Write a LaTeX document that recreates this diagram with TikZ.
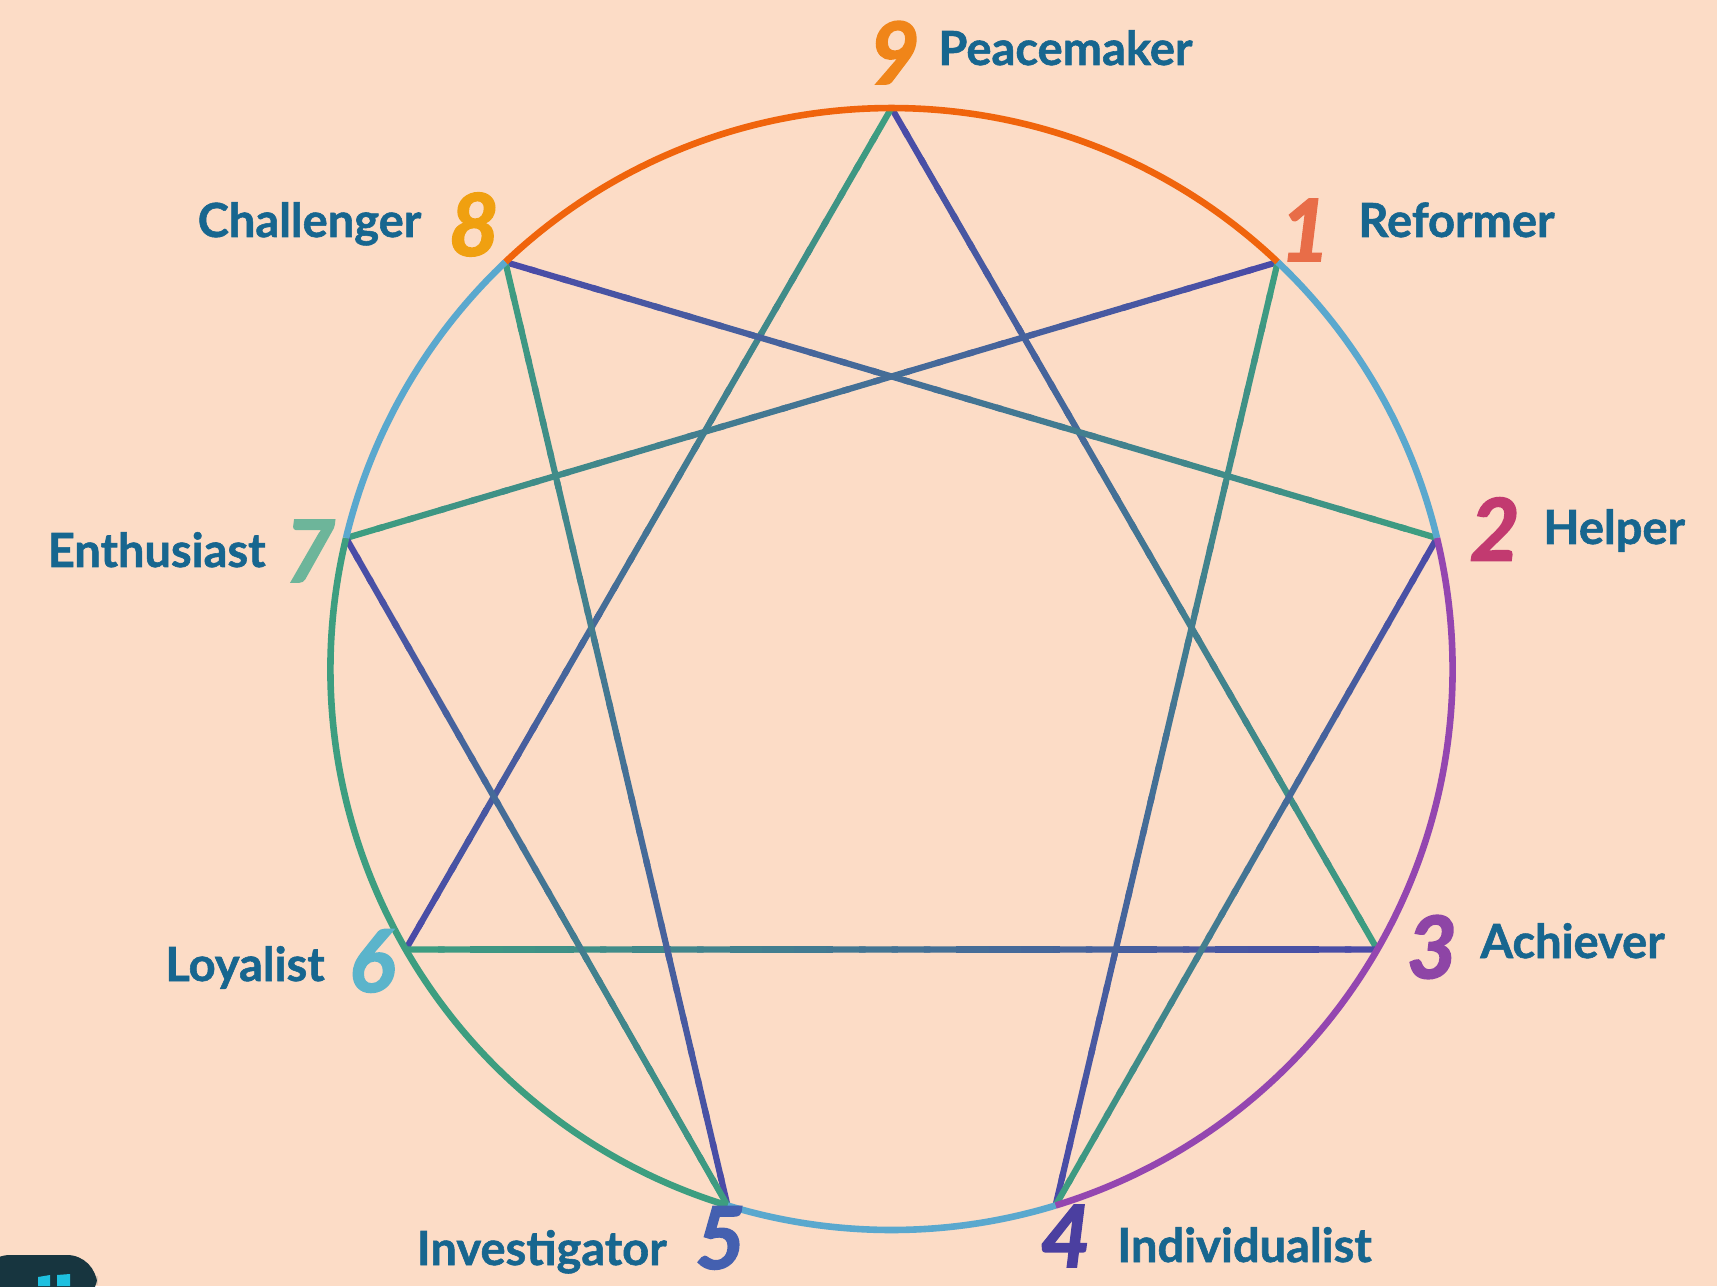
\documentclass[tikz,border=0pt]{standalone}
\usepackage{fontspec}
\setmainfont{Lato}
\usetikzlibrary{calc}
\definecolor{bg}{HTML}{FCDCC6}
\definecolor{txt}{HTML}{17668F}
\definecolor{greenL}{HTML}{3D9E80}
\definecolor{indigoL}{HTML}{4A4AA8}
\definecolor{orangeL}{HTML}{F0640C}
\definecolor{lblue}{HTML}{5AA8CE}
\definecolor{purpL}{HTML}{9446B0}
\definecolor{c9}{HTML}{F08519}
\definecolor{c8}{HTML}{F0A010}
\definecolor{c1}{HTML}{E86D48}
\definecolor{c2}{HTML}{C23A70}
\definecolor{c3}{HTML}{8E45A6}
\definecolor{c4}{HTML}{4B3FA0}
\definecolor{c5}{HTML}{4460B0}
\definecolor{c6}{HTML}{5BB4CB}
\definecolor{c7}{HTML}{6DB59A}
\definecolor{dark}{HTML}{17353F}
\definecolor{cyanL}{HTML}{1EC0E0}
\newfontfamily\lblfont[FakeBold=1.2]{Lato}
\newfontfamily\digfont[FakeBold=2]{Lato}
\newcommand\gline[2]{%
  \foreach \i in {0,...,29}{%
    \pgfmathsetmacro\ta{\i/30}%
    \pgfmathsetmacro\tb{min((\i+1.2)/30,1)}%
    \pgfmathsetmacro\pc{(\i+0.5)/30*100}%
    \draw[inner, draw=indigoL!\pc!greenL] ($(#1)!\ta!(#2)$) -- ($(#1)!\tb!(#2)$);
  }}
\begin{document}
\begin{tikzpicture}[x=0.5pt,y=0.5pt,
  inner/.style={line width=3.1pt},
  rim/.style={line width=3.3pt},
  lbl/.style={text=txt, font=\lblfont\bfseries\fontsize{23.5}{27}\selectfont, inner sep=0pt},
  dig/.style={font=\digfont\bfseries\itshape\fontsize{43}{48}\selectfont, inner sep=0pt}]
\fill[bg] (0,0) rectangle (1717,1286);
\useasboundingbox (0,0) rectangle (1717,1286);
\coordinate (C) at (891.5,617);
\foreach \n/\a in {9/90,1/46.5,2/13.5,3/-30,4/-73,5/253,6/210,7/166.5,8/133.5}
  \coordinate (p\n) at ($(C)+(\a:561)$);
% inner lines (green end first, indigo end second)
\gline{p3}{p9}
\gline{p9}{p6}
\gline{p6}{p3}
\gline{p7}{p1}
\gline{p1}{p4}
\gline{p4}{p2}
\gline{p2}{p8}
\gline{p8}{p5}
\gline{p5}{p7}
% rim arcs
\draw[rim, orangeL] (p8) arc[start angle=133.5, end angle=46.5, radius=561];
\draw[rim, lblue] (p1) arc[start angle=46.5, end angle=13.5, radius=561];
\draw[rim, purpL] (p2) arc[start angle=13.5, end angle=-73, radius=561];
\draw[rim, lblue] (p4) arc[start angle=-73, end angle=-107, radius=561];
\draw[rim, greenL] (p5) arc[start angle=253, end angle=166.5, radius=561];
\draw[rim, lblue] (p7) arc[start angle=166.5, end angle=133.5, radius=561];
% digits
\node[dig, text=c9] (d9) at (894.6,1233.4) {9};
\node[dig, text=c8] (d8) at (474,1061.5) {8};
\node[dig, text=c1] (d1) at (1305,1056) {1};
\node[dig, text=c2] (d2) at (1494.7,757) {2};
\node[dig, text=c7] (d7) at (310,735) {7};
\node[dig, text=c3] (d3) at (1432,339) {3};
\node[dig, text=c6] (d6) at (372,325) {6};
\node[dig, text=c5] (d5) at (720.5,48) {5};
\node[dig, text=c4] (d4) at (1065.5,50) {4};
% labels
\node[lbl, anchor=base west] (l9) at (938,1221) {Peacemaker};
\node[lbl, anchor=base east] (l8) at (421.6,1049) {Challenger};
\node[lbl, anchor=base west] (l1) at (1358,1049) {Reformer};
\node[lbl, anchor=base west] (l2) at (1543,742) {Helper};
\node[lbl, anchor=base east] (l7) at (266,719) {Enthusiast};
\node[lbl, anchor=base west] (l3) at (1480,328) {Achiever};
\node[lbl, anchor=base east] (l6) at (325,305) {Loyalist};
\node[lbl, anchor=base east] (l5) at (667,21) {Investigator};
\node[lbl, anchor=base west] (l4) at (1117,24) {Individualist};
% corner badge
\fill[dark, rounded corners=15pt] (-20,-20) rectangle (97,31);
\fill[cyanL] (38,0) -- (38,9) -- (50,11) -- (50,0) -- cycle;
\fill[cyanL] (57,0) -- (57,11) -- (70,12) -- (70,0) -- cycle;
\end{tikzpicture}
\end{document}
